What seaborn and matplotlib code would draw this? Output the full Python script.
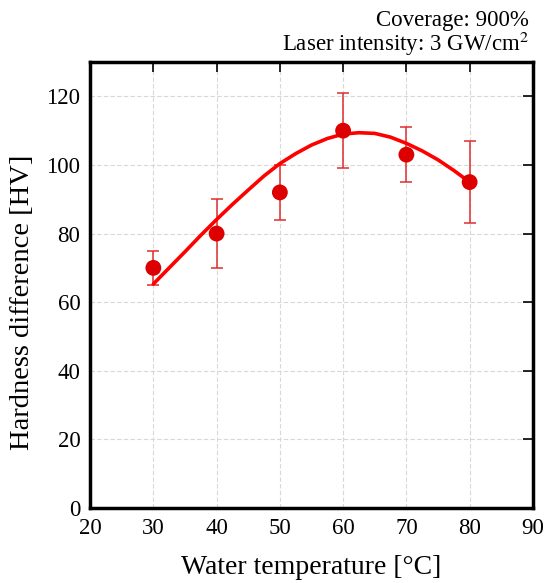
import matplotlib
matplotlib.use("Agg")
import matplotlib.pyplot as plt
import seaborn as sns
import pandas as pd

# measured points
temps = [30, 40, 50, 60, 70, 80]
hardness = [70, 80, 92, 110, 103, 95]
err_low = [65, 70, 84, 99, 95, 83]
err_high = [75, 90, 100, 121, 111, 107]

# fitted curve
curve_x = [30, 32.5, 35, 37.5, 40, 42.5, 45, 47.5, 50, 52.5, 55, 57.5, 60, 62.5, 65, 67.5, 70, 72.5, 75, 77.5, 80]
curve_y = [65.3, 70.0, 74.7, 79.5, 84.1, 88.5, 92.7, 96.8, 100.4, 103.3, 105.8, 107.7, 109.0, 109.4, 109.2, 108.1, 106.3, 104.1, 101.5, 98.4, 95.0]

df_pts = pd.DataFrame({"temp": temps, "hv": hardness})
df_fit = pd.DataFrame({"temp": curve_x, "hv": curve_y})

sns.set_style("white")
plt.rcParams["font.family"] = ["Liberation Serif", "DejaVu Serif"]
plt.rcParams["mathtext.fontset"] = "stix"
plt.rcParams["text.color"] = "black"
plt.rcParams["axes.labelcolor"] = "black"
plt.rcParams["xtick.color"] = "black"
plt.rcParams["ytick.color"] = "black"

fig = plt.figure(figsize=(5.46, 5.83), dpi=100)
ax = fig.add_axes([0.165, 0.1286, 0.811, 0.765])

# error bars
yerr = [[h - lo for h, lo in zip(hardness, err_low)],
        [hi - h for h, hi in zip(hardness, err_high)]]
ax.errorbar(temps, hardness, yerr=yerr, fmt="none", ecolor="#e03030", alpha=0.8,
            elinewidth=1.4, capsize=4, capthick=1.4, zorder=3)

sns.lineplot(data=df_fit, x="temp", y="hv", color="#ff0000", linewidth=2.6, ax=ax, zorder=4)
sns.scatterplot(data=df_pts, x="temp", y="hv", color="#dd0000", s=130, edgecolor="none", ax=ax, zorder=5)

ax.set_xlim(20, 90)
ax.set_ylim(0, 130)
ax.set_xticks(range(20, 91, 10))
ax.set_yticks(range(0, 121, 20))
ax.grid(True, color="#d8d8d8", linestyle=(0, (4, 2)), linewidth=0.8)
ax.set_axisbelow(True)
for s in ax.spines.values():
    s.set_linewidth(2.5)
    s.set_color("black")
ax.tick_params(direction="in", length=7, width=1.2, top=True, right=True,
               labelsize=16.5, pad=7)

ax.set_xlabel("Water temperature [°C]", fontsize=20, labelpad=12)
ax.set_ylabel("Hardness difference [HV]", fontsize=20.5)
ax.yaxis.set_label_coords(-0.125, 0.462)

fig.text(0.968, 0.965, "Coverage: 900%", ha="right", va="center", fontsize=16.5)
fig.text(0.968, 0.925, "Laser intensity: 3 GW/cm$^2$", ha="right", va="center", fontsize=16.5)

fig.savefig("out.png", dpi=100)
